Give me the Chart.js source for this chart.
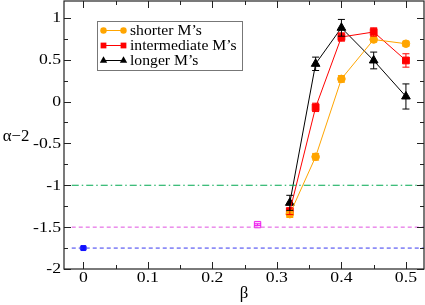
<!DOCTYPE html>
<html>
<head>
<meta charset="utf-8">
<script src="https://cdn.jsdelivr.net/npm/chart.js@4.4.1/dist/chart.umd.min.js"></script>
<style>
  body { margin: 0; background: #fff; }
  #wrap { width: 425px; height: 305px; }
</style>
</head>
<body>
<div id="wrap"><canvas id="chart" width="425" height="305"></canvas></div>
<script>
// values
const betas = [0.32, 0.36, 0.40, 0.45, 0.50];
const shorter = [-1.345, -0.66, 0.27, 0.74, 0.69];
const shorterErr = [0.04, 0.04, 0.04, 0.03, 0.03];
const intermediate = [-1.31, -0.07, 0.77, 0.83, 0.49];
const intermediateErr = [0.04, 0.05, 0.05, 0.05, 0.08];
const longer = [-1.21, 0.45, 0.88, 0.49, 0.06];
const longerErr = [0.09, 0.08, 0.10, 0.10, 0.15];

const refLevels = [-1, -1.5, -1.75];
const refSpan = [-0.018, 0.528];
const bluePoint = [0, -1.75];
const bluePointErr = 0.012;
const magentaPoint = [0.27, -1.47];
const magentaPointErr = 0.01;

const seriesLabels = ["shorter M\u2019s", "intermediate M\u2019s", "longer M\u2019s"];
const xTicks = [0, 0.1, 0.2, 0.3, 0.4, 0.5];
const yTicks = [-2, -1.5, -1, -0.5, 0, 0.5, 1];
const xMinorStep = 0.05;
const yMinorStep = 0.25;

const SERIF = "'Liberation Serif', 'DejaVu Serif', serif";

const pts = (xs, ys) => xs.map((x, i) => ({ x: x, y: ys[i] }));

// reference lines drawn first so markers sit on top
const refDatasets = [
  { color: '#00a850', dash: [7, 3, 1.5, 3] },
  { color: '#e050e0', dash: [4, 3] },
  { color: '#3838f0', dash: [4, 3] }
].map((st, i) => ({
  type: 'line',
  data: [{ x: refSpan[0], y: refLevels[i] }, { x: refSpan[1], y: refLevels[i] }],
  borderColor: st.color,
  borderWidth: 1,
  borderDash: st.dash,
  pointRadius: 0,
  fill: false,
  legend: false
}));

const datasets = refDatasets.concat([
  {
    type: 'scatter',
    data: [{ x: bluePoint[0], y: bluePoint[1] }],
    errors: [bluePointErr],
    pointStyle: 'rect', pointRadius: 3.5,
    backgroundColor: '#1010ff', borderColor: '#1010ff', borderWidth: 1,
    legend: false
  },
  {
    type: 'scatter',
    data: [{ x: magentaPoint[0], y: magentaPoint[1] }],
    errors: [magentaPointErr],
    pointStyle: 'rect', pointRadius: 4.5,
    backgroundColor: 'rgba(255,120,255,0.35)', borderColor: '#ee22ee', borderWidth: 1,
    legend: false
  },
  {
    label: seriesLabels[0],
    type: 'line',
    data: pts(betas, shorter),
    errors: shorterErr,
    borderColor: '#ffa500', backgroundColor: '#ffa500',
    borderWidth: 1, pointStyle: 'circle', pointRadius: 3.8,
    fill: false, tension: 0, legend: true
  },
  {
    label: seriesLabels[1],
    type: 'line',
    data: pts(betas, intermediate),
    errors: intermediateErr,
    borderColor: '#ff0000', backgroundColor: '#ff0000',
    borderWidth: 1, pointStyle: 'rect', pointRadius: 4.8,
    fill: false, tension: 0, legend: true
  },
  {
    label: seriesLabels[2],
    type: 'line',
    data: pts(betas, longer),
    errors: longerErr,
    borderColor: '#000000', backgroundColor: '#000000',
    borderWidth: 1, pointStyle: 'triangle', pointRadius: 5,
    fill: false, tension: 0, legend: true
  }
]);

function fmt(v) {
  const r = Math.round(v * 100) / 100;
  return String(r);
}

// the original's serif lettering is a bit wider than Liberation Serif
function wideText(ctx, text, x, y, align, sx) {
  ctx.save();
  ctx.translate(x, y);
  ctx.scale(sx, 1);
  ctx.textAlign = align;
  ctx.fillText(text, 0, 0);
  ctx.restore();
}

// error bars with small caps
const errorBars = {
  id: 'errorBars',
  afterDatasetsDraw(chart) {
    const ctx = chart.ctx;
    const xs = chart.scales.x, ys = chart.scales.y;
    chart.data.datasets.forEach((ds) => {
      if (!ds.errors) return;
      ctx.save();
      ctx.strokeStyle = ds.borderColor;
      ctx.lineWidth = 1;
      ds.data.forEach((p, i) => {
        const e = ds.errors[i];
        const px = xs.getPixelForValue(p.x);
        const top = ys.getPixelForValue(p.y + e);
        const bot = ys.getPixelForValue(p.y - e);
        ctx.beginPath();
        ctx.moveTo(px, top); ctx.lineTo(px, bot);
        ctx.moveTo(px - 3.5, top); ctx.lineTo(px + 3.5, top);
        ctx.moveTo(px - 3.5, bot); ctx.lineTo(px + 3.5, bot);
        ctx.stroke();
      });
      ctx.restore();
    });
  }
};

// frame with inward ticks on all four sides, tick labels and axis titles
const frame = {
  id: 'frame',
  afterDraw(chart) {
    const ctx = chart.ctx;
    const a = chart.chartArea;
    const xs = chart.scales.x, ys = chart.scales.y;
    ctx.save();
    ctx.strokeStyle = '#222';
    ctx.lineWidth = 1.2;
    ctx.strokeRect(a.left, a.top, a.right - a.left, a.bottom - a.top);
    ctx.lineWidth = 1;
    ctx.beginPath();
    for (let v = xTicks[0]; v <= xs.max + 1e-9; v += xMinorStep) {
      const major = xTicks.some(t => Math.abs(t - v) < 1e-6);
      const len = major ? 7 : 4;
      const px = Math.round(xs.getPixelForValue(v)) + 0.5;
      ctx.moveTo(px, a.bottom); ctx.lineTo(px, a.bottom - len);
      ctx.moveTo(px, a.top); ctx.lineTo(px, a.top + len);
    }
    for (let v = yTicks[0]; v <= ys.max + 1e-9; v += yMinorStep) {
      const major = yTicks.some(t => Math.abs(t - v) < 1e-6);
      const len = major ? 7 : 4;
      const py = Math.round(ys.getPixelForValue(v)) + 0.5;
      ctx.moveTo(a.left, py); ctx.lineTo(a.left + len, py);
      ctx.moveTo(a.right, py); ctx.lineTo(a.right - len, py);
    }
    ctx.stroke();

    ctx.fillStyle = '#000';
    ctx.font = '15px ' + SERIF;
    ctx.textBaseline = 'top';
    xTicks.forEach(v => wideText(ctx, fmt(v), xs.getPixelForValue(v), a.bottom + 2, 'center', 1.18));
    ctx.textBaseline = 'middle';
    yTicks.forEach(v => wideText(ctx, fmt(v), a.left - 3, ys.getPixelForValue(v) + 0.5, 'right', 1.18));

    // axis titles, y title kept upright like the original
    ctx.font = '16px ' + SERIF;
    ctx.textBaseline = 'middle';
    wideText(ctx, '\u03b1\u22122', 16, 137, 'center', 1.05);
    wideText(ctx, '\u03b2', (a.left + a.right) / 2, 294, 'center', 1.05);
    ctx.restore();
  }
};

function marker(ctx, style, x, y, r) {
  ctx.beginPath();
  if (style === 'circle') {
    ctx.arc(x, y, r, 0, Math.PI * 2);
  } else if (style === 'rect') {
    const s = r * Math.SQRT1_2;
    ctx.rect(x - s, y - s, 2 * s, 2 * s);
  } else {
    ctx.moveTo(x, y - r);
    ctx.lineTo(x + r * 0.87, y + r * 0.5);
    ctx.lineTo(x - r * 0.87, y + r * 0.5);
    ctx.closePath();
  }
  ctx.fill();
}

// boxed legend in the upper left of the plot
const boxLegend = {
  id: 'boxLegend',
  afterDraw(chart) {
    const ctx = chart.ctx;
    const items = chart.data.datasets.filter(d => d.legend);
    const bx = 97, by = 21, bw = 145, bh = 49;
    ctx.save();
    ctx.fillStyle = '#fff';
    ctx.fillRect(bx, by, bw, bh);
    ctx.strokeStyle = '#777';
    ctx.lineWidth = 1;
    ctx.strokeRect(bx + 0.5, by + 0.5, bw, bh);
    ctx.font = '14px ' + SERIF;
    ctx.textBaseline = 'middle';
    items.forEach((d, i) => {
      const y = by + 9.5 + i * 15;
      ctx.strokeStyle = d.borderColor;
      ctx.fillStyle = d.backgroundColor;
      ctx.beginPath();
      ctx.moveTo(103, y); ctx.lineTo(124, y);
      ctx.stroke();
      marker(ctx, d.pointStyle, 103.5, y, d.pointRadius * 0.85);
      marker(ctx, d.pointStyle, 123.5, y, d.pointRadius * 0.85);
      ctx.fillStyle = '#000';
      wideText(ctx, d.label, 130, y + 0.5, 'left', 1.12);
    });
    ctx.restore();
  }
};

new Chart(document.getElementById('chart'), {
  type: 'scatter',
  data: { datasets: datasets },
  options: {
    responsive: false,
    animation: false,
    devicePixelRatio: 1,
    layout: { autoPadding: false, padding: { top: 1, right: 1, left: 0, bottom: 0 } },
    plugins: {
      legend: { display: false },
      tooltip: { enabled: false }
    },
    scales: {
      x: {
        type: 'linear',
        min: -0.03,
        max: 0.528,
        grid: { display: false, drawTicks: false },
        border: { display: false },
        ticks: { display: false },
        afterBuildTicks: (s) => { s.ticks = xTicks.map(v => ({ value: v })); },
        afterFit: (s) => { s.height = 36; }
      },
      y: {
        type: 'linear',
        min: -2,
        max: 1.2,
        grid: { display: false, drawTicks: false },
        border: { display: false },
        ticks: { display: false },
        afterBuildTicks: (s) => { s.ticks = yTicks.map(v => ({ value: v })); },
        afterFit: (s) => { s.width = 64; }
      }
    }
  },
  plugins: [errorBars, frame, boxLegend]
});
</script>
</body>
</html>
